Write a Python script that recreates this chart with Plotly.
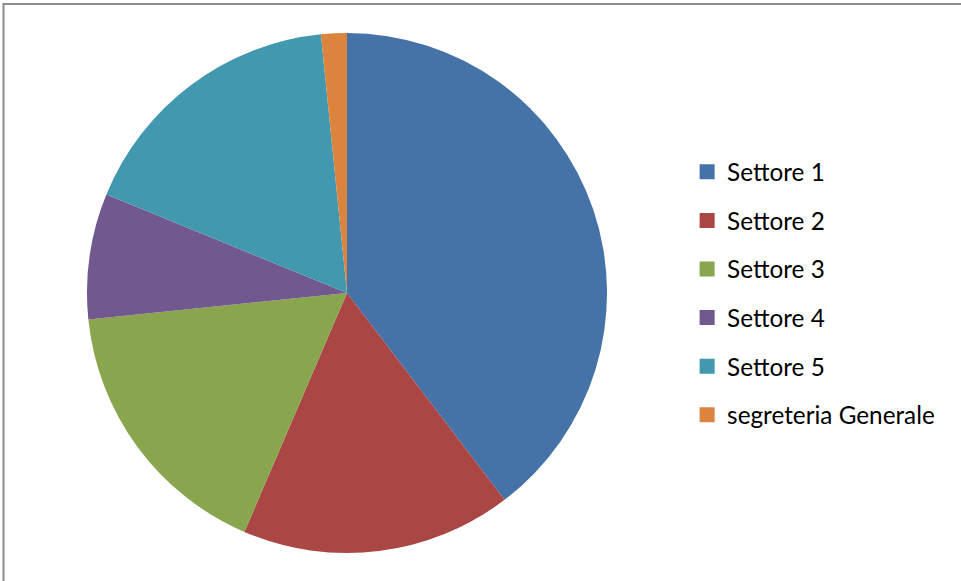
import plotly.graph_objects as go

categories = ["Settore 1", "Settore 2", "Settore 3", "Settore 4", "Settore 5", "segreteria Generale"]
values = [39.6, 16.8, 16.9, 7.8, 17.2, 1.6]
colors = ["#4572A7", "#AA4643", "#89A54E", "#71588F", "#4198AF", "#DB843D"]

W, H = 961, 581
cx, cy, r = 347, 293, 260

fig = go.Figure()
fig.add_trace(go.Pie(
    labels=categories,
    values=values,
    sort=False,
    direction="clockwise",
    rotation=0,
    marker=dict(colors=colors, line=dict(width=0)),
    textinfo="none",
    showlegend=False,
    domain=dict(x=[(cx - r) / W, (cx + r) / W], y=[(H - cy - r) / H, (H - cy + r) / H]),
))

for i, (lab, col) in enumerate(zip(categories, colors)):
    fig.add_trace(go.Scatter(
        x=[None], y=[None], mode="markers", name=lab,
        marker=dict(symbol="square", size=15, color=col),
        legendgroup=f"g{i}", showlegend=True,
    ))

fig.update_layout(
    width=W, height=H,
    margin=dict(l=0, r=0, t=0, b=0),
    paper_bgcolor="white", plot_bgcolor="white",
    xaxis=dict(visible=False), yaxis=dict(visible=False),
    legend=dict(
        x=0.715, y=1 - 293.5 / H, xanchor="left", yanchor="middle",
        font=dict(family="Lato", size=24.3, color="black"),
        tracegroupgap=14, itemwidth=30,
        bgcolor="rgba(0,0,0,0)",
    ),
    shapes=[dict(type="rect", xref="paper", yref="paper",
                 x0=3.5 / W, x1=1.2, y0=-0.2, y1=1 - 4 / H,
                 line=dict(color="#8c8c8c", width=2), layer="below")],
)

fig.write_html("out.html", config={"displayModeBar": False},
               post_script="document.body.style.margin='0';")
